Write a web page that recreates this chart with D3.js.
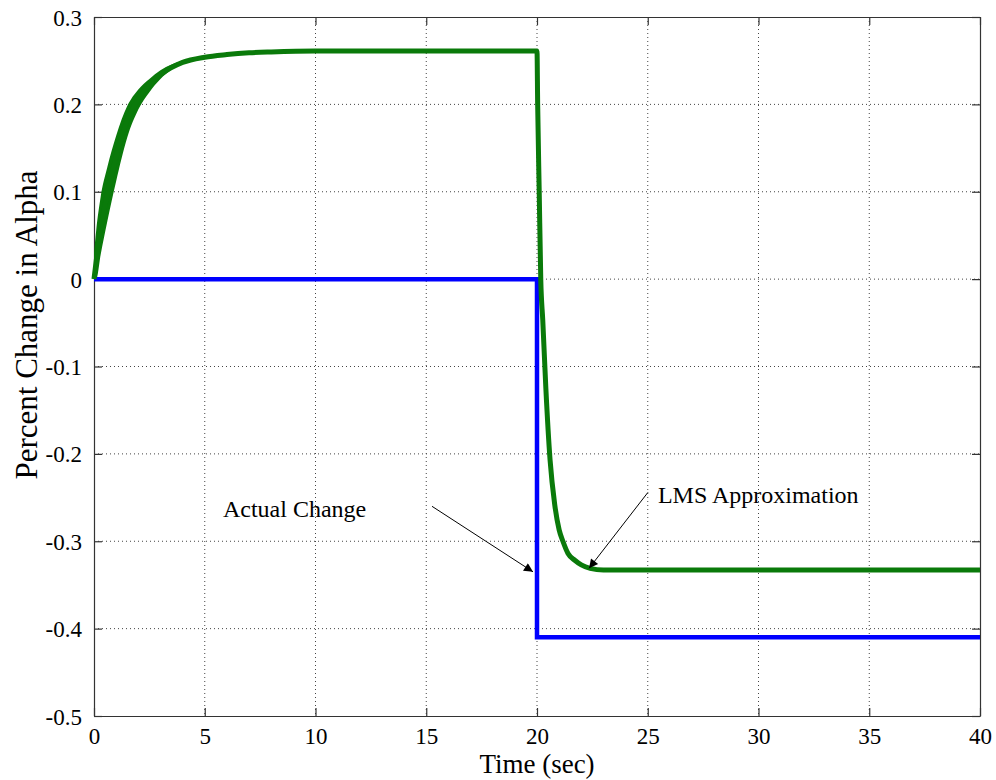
<!DOCTYPE html>
<html>
<head>
<meta charset="utf-8">
<script src="https://cdn.jsdelivr.net/npm/d3@7"></script>
<style>
  html, body { margin: 0; padding: 0; background: #fff; }
  svg { display: block; }
  svg text { font-family: "Liberation Serif", "Times New Roman", serif !important; fill: #000; }
</style>
</head>
<body>
<svg id="chart" width="996" height="780"></svg>
<script>
// ---------- data ----------
const xTicks = [0, 5, 10, 15, 20, 25, 30, 35, 40];
const yTicks = [0.3, 0.2, 0.1, 0, -0.1, -0.2, -0.3, -0.4, -0.5];
const yTickLabels = ["0.3", "0.2", "0.1", "0", "-0.1", "-0.2", "-0.3", "-0.4", "-0.5"];

// Actual change (blue)
const actualT = [0, 20, 20, 40];
const actualV = [0, 0, -0.41, -0.41];

// LMS approximation (green) centre line
const lmsT = [0, 0.25, 0.5, 0.75, 1, 1.5, 2, 2.5, 3, 4, 5, 6, 7, 8, 10, 15, 20,
              20.03, 20.1, 20.17, 20.26, 20.4, 20.59, 20.8, 21.0, 21.17, 21.4, 21.72, 22.0, 22.4, 23, 30, 40];
const lmsV = [0, 0.05, 0.085, 0.114, 0.14, 0.182, 0.206, 0.222, 0.234, 0.248, 0.254, 0.257, 0.259, 0.26, 0.261, 0.261, 0.261,
              0.2, 0.1, 0.0, -0.047, -0.125, -0.207, -0.258, -0.287, -0.3, -0.314, -0.322, -0.327, -0.331, -0.333, -0.333, -0.333];

// noisy envelope of the LMS estimate during the initial rise
const bandT  = [0, 0.1, 0.3, 0.6, 1, 1.5, 2, 2.5, 3, 4];
const bandLo = [0, 0.000, 0.028, 0.066, 0.112, 0.162, 0.194, 0.214, 0.229, 0.247];
const bandHi = [0.03, 0.056, 0.094, 0.128, 0.164, 0.198, 0.217, 0.229, 0.239, 0.250];

// annotations: text anchor and arrow (data units)
const annotations = [
  { text: "Actual Change",     tx: 5.82,  ty: -0.272, x1: 15.26, y1: -0.26,  x2: 19.82, y2: -0.335 },
  { text: "LMS Approximation", tx: 25.46, ty: -0.256, x1: 25.01, y1: -0.244, x2: 22.35, y2: -0.331 }
];

// ---------- layout ----------
const margin = { left: 94, top: 17, right: 16, bottom: 64 };
const W = 996, H = 780;
const iw = W - margin.left - margin.right;   // 886
const ih = H - margin.top - margin.bottom;   // 699

const svg = d3.select("#chart");
const g = svg.append("g").attr("transform", `translate(${margin.left},${margin.top})`);

const x = d3.scaleLinear().domain([0, 40]).range([0, iw]);
const y = d3.scaleLinear().domain([-0.5, 0.3]).range([ih, 0]);

// grid
const gridColor = "#444";
g.append("g").selectAll("line").data(xTicks.slice(1, -1)).join("line")
  .attr("x1", d => x(d)).attr("x2", d => x(d)).attr("y1", 0).attr("y2", ih)
  .attr("stroke", gridColor).attr("stroke-width", 1).attr("stroke-dasharray", "1,3");
g.append("g").selectAll("line").data(yTicks.slice(1, -1)).join("line")
  .attr("y1", d => y(d)).attr("y2", d => y(d)).attr("x1", 0).attr("x2", iw)
  .attr("stroke", gridColor).attr("stroke-width", 1).attr("stroke-dasharray", "1,3");

// axes (ticks inward, box)
const tickLen = 8;
const fmtY = d => yTickLabels[yTicks.indexOf(d)];
const axB = g.append("g").attr("transform", `translate(0,${ih})`)
  .call(d3.axisBottom(x).tickValues(xTicks).tickSizeInner(-tickLen).tickSizeOuter(0).tickPadding(12).tickFormat(d3.format("d")));
const axT = g.append("g")
  .call(d3.axisTop(x).tickValues(xTicks).tickSizeInner(-tickLen).tickSizeOuter(0).tickFormat(""));
const axL = g.append("g")
  .call(d3.axisLeft(y).tickValues(yTicks).tickSizeInner(-tickLen).tickSizeOuter(0).tickPadding(12).tickFormat(fmtY));
const axR = g.append("g").attr("transform", `translate(${iw},0)`)
  .call(d3.axisRight(y).tickValues(yTicks).tickSizeInner(-tickLen).tickSizeOuter(0).tickFormat(""));
[axB, axT, axL, axR].forEach(a => {
  a.attr("font-family", null).attr("font-size", null);
  a.select(".domain").attr("stroke", "#333").attr("stroke-width", 1.2);
  a.selectAll(".tick line").attr("stroke", "#333").attr("stroke-width", 1.2);
  a.selectAll("text").style("font-family", "'Liberation Serif', serif").style("font-size", "23px").attr("fill", "#000");
});
axL.selectAll("text").attr("dy", "0.35em");

// band
const bandArea = d3.area()
  .x((d, i) => x(bandT[i]))
  .y0((d, i) => y(bandLo[i]))
  .y1((d, i) => y(bandHi[i]))
  .curve(d3.curveMonotoneX);
g.append("path").datum(bandT).attr("d", bandArea).attr("fill", "#0a7a0a");

// lines
const line = d3.line().x(d => x(d[0])).y(d => y(d[1]));
g.append("path").datum(actualT.map((t, i) => [t, actualV[i]]))
  .attr("d", line).attr("fill", "none").attr("stroke", "#0000ff").attr("stroke-width", 4.5);

const lineSmooth = d3.line().x(d => x(d[0])).y(d => y(d[1])).curve(d3.curveMonotoneX);
g.append("path").datum(lmsT.map((t, i) => [t, lmsV[i]]))
  .attr("d", lineSmooth).attr("fill", "none").attr("stroke", "#0a7a0a").attr("stroke-width", 5)
  .attr("stroke-linejoin", "round");

// annotations
svg.append("defs").append("marker")
  .attr("id", "arrow").attr("viewBox", "0 0 10 10").attr("refX", 10).attr("refY", 5)
  .attr("markerWidth", 18).attr("markerHeight", 9).attr("markerUnits", "userSpaceOnUse")
  .attr("orient", "auto")
  .append("path").attr("d", "M0,0 L10,5 L0,10 Z").attr("fill", "#000");

const ann = g.append("g");
annotations.forEach(a => {
  ann.append("line")
    .attr("x1", x(a.x1)).attr("y1", y(a.y1)).attr("x2", x(a.x2)).attr("y2", y(a.y2))
    .attr("stroke", "#000").attr("stroke-width", 1).attr("marker-end", "url(#arrow)");
  ann.append("text").attr("x", x(a.tx)).attr("y", y(a.ty))
    .style("font-size", "24px").text(a.text);
});

// axis titles
svg.append("text").attr("x", 537).attr("y", 773).attr("text-anchor", "middle")
  .style("font-size", "27px").text("Time (sec)");
svg.append("text").attr("transform", "translate(37,325) rotate(-90)").attr("text-anchor", "middle")
  .style("font-size", "31px").text("Percent Change in Alpha");
</script>
</body>
</html>
